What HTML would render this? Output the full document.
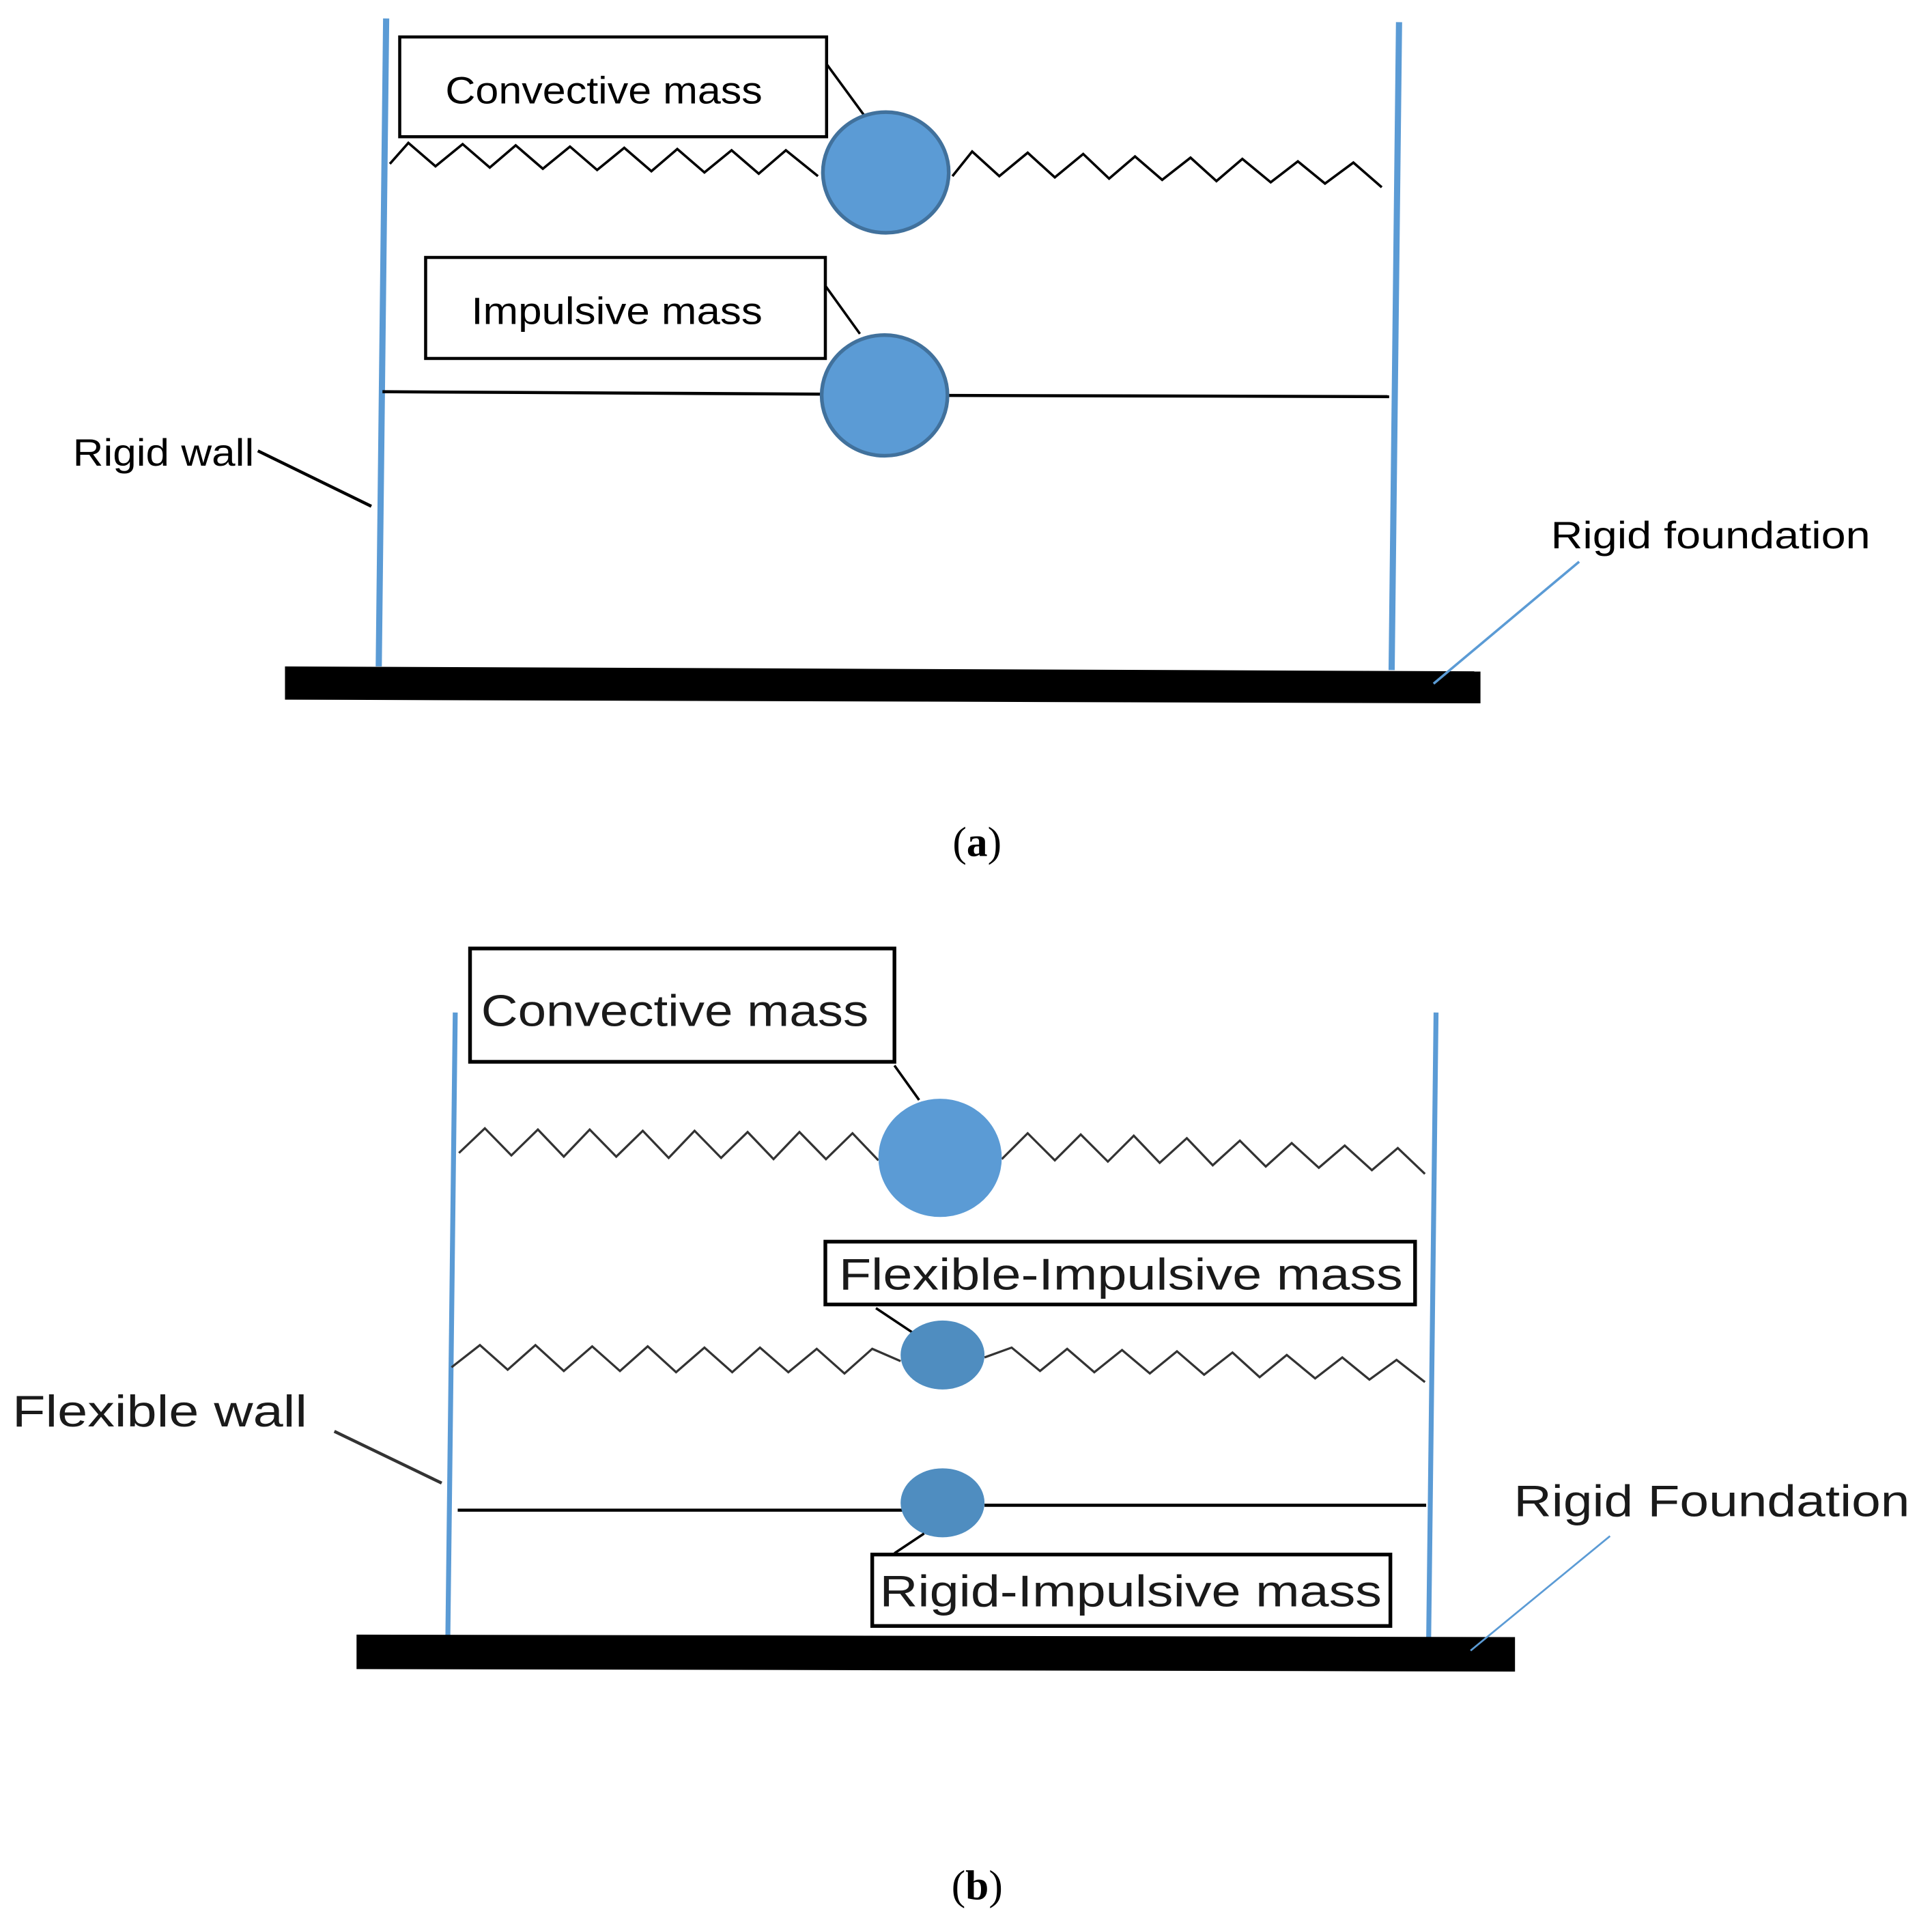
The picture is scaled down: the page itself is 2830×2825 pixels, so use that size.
<!DOCTYPE html>
<html><head><meta charset="utf-8">
<style>
html,body{margin:0;padding:0;background:#fff;}
svg{display:block;}
text{font-family:"Liberation Sans",sans-serif;}
</style></head>
<body>
<svg width="2830" height="2825" viewBox="0 0 1566 1566" preserveAspectRatio="none" xmlns="http://www.w3.org/2000/svg">
<rect width="1566" height="1566" fill="#fff"/>
<!-- (a) -->
<line x1="313" y1="15" x2="307" y2="541" stroke="#5b9bd5" stroke-width="5"/>
<line x1="1134" y1="18" x2="1128" y2="544" stroke="#5b9bd5" stroke-width="5"/>
<polygon points="231,541 1200,545 1200,571 231,568" fill="#000"/>
<rect x="324" y="30" width="346" height="81" fill="#fff" stroke="#000" stroke-width="2.5"/>
<text x="361" y="84" font-size="31" textLength="257" lengthAdjust="spacingAndGlyphs">Convective mass</text>
<line x1="670" y1="52" x2="700" y2="93" stroke="#000" stroke-width="2"/>
<polyline fill="none" stroke="#000" stroke-width="2" points="316,133 331,116 353,135 375,117 397,136 418,118 440,137 462,119 484,138 506,120 528,139 549,121 571,140 593,122 615,141 637,122 663,143"/>
<polyline fill="none" stroke="#000" stroke-width="2" points="772,143 788,123 810,143 833,124 855,144 878,125 899,145 920,127 942,146 965,128 986,147 1007,129 1030,148 1052,131 1074,149 1097,132 1120,152"/>
<ellipse cx="718" cy="140" rx="51" ry="49" fill="#5b9bd5" stroke="#41719c" stroke-width="3"/>
<rect x="345" y="209" width="324" height="82" fill="#fff" stroke="#000" stroke-width="2.5"/>
<text x="382" y="263" font-size="31" textLength="236" lengthAdjust="spacingAndGlyphs">Impulsive mass</text>
<line x1="669" y1="232" x2="697" y2="271" stroke="#000" stroke-width="2"/>
<line x1="310" y1="318" x2="670" y2="320" stroke="#000" stroke-width="2.5"/>
<line x1="765" y1="321" x2="1126" y2="322" stroke="#000" stroke-width="2.5"/>
<ellipse cx="717" cy="321" rx="51" ry="49" fill="#5b9bd5" stroke="#41719c" stroke-width="3"/>
<text x="59" y="378" font-size="31" textLength="147" lengthAdjust="spacingAndGlyphs">Rigid wall</text>
<line x1="209" y1="366" x2="301" y2="411" stroke="#000" stroke-width="2.5"/>
<text x="1257" y="445" font-size="31" textLength="259" lengthAdjust="spacingAndGlyphs">Rigid foundation</text>
<line x1="1280" y1="456" x2="1162" y2="555" stroke="#5b9bd5" stroke-width="2"/>
<text x="792" y="695" font-size="34" text-anchor="middle" style="font-family:'Liberation Serif',serif">(<tspan font-weight="bold">a</tspan>)</text>
<!-- (b) -->
<line x1="369" y1="822" x2="363" y2="1330" stroke="#5b9bd5" stroke-width="4"/>
<line x1="1164" y1="822" x2="1158" y2="1332" stroke="#5b9bd5" stroke-width="4"/>
<polygon points="289,1327 1228,1329 1228,1357 289,1355" fill="#000"/>
<rect x="381" y="770" width="344" height="92" fill="#fff" stroke="#000" stroke-width="3"/>
<text x="390" y="833" font-size="36" fill="#1a1a1a" textLength="314" lengthAdjust="spacingAndGlyphs">Convective mass</text>
<line x1="725" y1="865" x2="745" y2="893" stroke="#000" stroke-width="2"/>
<polyline fill="none" stroke="#333" stroke-width="1.8" points="372,936 393,916 414.5,938 436,917 457,939 478,917 499.5,939 521,918 542,940 563,918 584.5,940 606,919 627,941 648,919 669.5,941 691,920 712,942"/>
<polyline fill="none" stroke="#333" stroke-width="1.8" points="812,941 833,920 855,942 876,921 898,943 919,922 940,944 962,924 983,946 1005,926 1026,947 1047,928 1069,948 1090,930 1112,950 1133,932 1155,953"/>
<ellipse cx="762" cy="940" rx="50" ry="48" fill="#5b9bd5"/>
<rect x="669" y="1008" width="478" height="51" fill="#fff" stroke="#000" stroke-width="3"/>
<text x="680" y="1047" font-size="36" fill="#1a1a1a" textLength="457" lengthAdjust="spacingAndGlyphs">Flexible-Impulsive mass</text>
<line x1="710" y1="1062" x2="746" y2="1086" stroke="#000" stroke-width="2"/>
<polyline fill="none" stroke="#333" stroke-width="1.8" points="366,1110 389,1092 411.5,1112 434,1092 457,1113 480,1093 502.5,1113 525,1093 548,1114 571,1094 593.5,1114 616,1094 639,1114 662,1095 684.5,1115 707,1095 730,1105"/>
<polyline fill="none" stroke="#333" stroke-width="1.8" points="798,1102 820,1094 843,1113 865,1095 887,1114 909.5,1096 932,1115 954,1097 976,1116 999,1098 1021,1118 1043,1100 1066,1119 1088,1102 1110,1120 1132,1104 1155,1122"/>
<ellipse cx="764" cy="1100" rx="34" ry="28" fill="#4f8dc0"/>
<line x1="371" y1="1226" x2="732" y2="1226" stroke="#000" stroke-width="2.5"/>
<line x1="798" y1="1222" x2="1156" y2="1222" stroke="#000" stroke-width="2.5"/>
<ellipse cx="764" cy="1220" rx="34" ry="28" fill="#4f8dc0"/>
<line x1="749" y1="1245" x2="725" y2="1261" stroke="#000" stroke-width="2"/>
<rect x="707" y="1262" width="420" height="58" fill="#fff" stroke="#000" stroke-width="3"/>
<text x="713" y="1304" font-size="36" fill="#1a1a1a" textLength="407" lengthAdjust="spacingAndGlyphs">Rigid-Impulsive mass</text>
<text x="10" y="1158" font-size="36" fill="#1a1a1a" textLength="239" lengthAdjust="spacingAndGlyphs">Flexible wall</text>
<line x1="271" y1="1162" x2="358" y2="1204" stroke="#333" stroke-width="2.5"/>
<text x="1227" y="1231" font-size="36" fill="#1a1a1a" textLength="321" lengthAdjust="spacingAndGlyphs">Rigid Foundation</text>
<line x1="1305" y1="1247" x2="1192" y2="1340" stroke="#5b9bd5" stroke-width="1.5"/>
<text x="792" y="1542" font-size="34" text-anchor="middle" style="font-family:'Liberation Serif',serif">(<tspan font-weight="bold">b</tspan>)</text>
</svg>
</body></html>
